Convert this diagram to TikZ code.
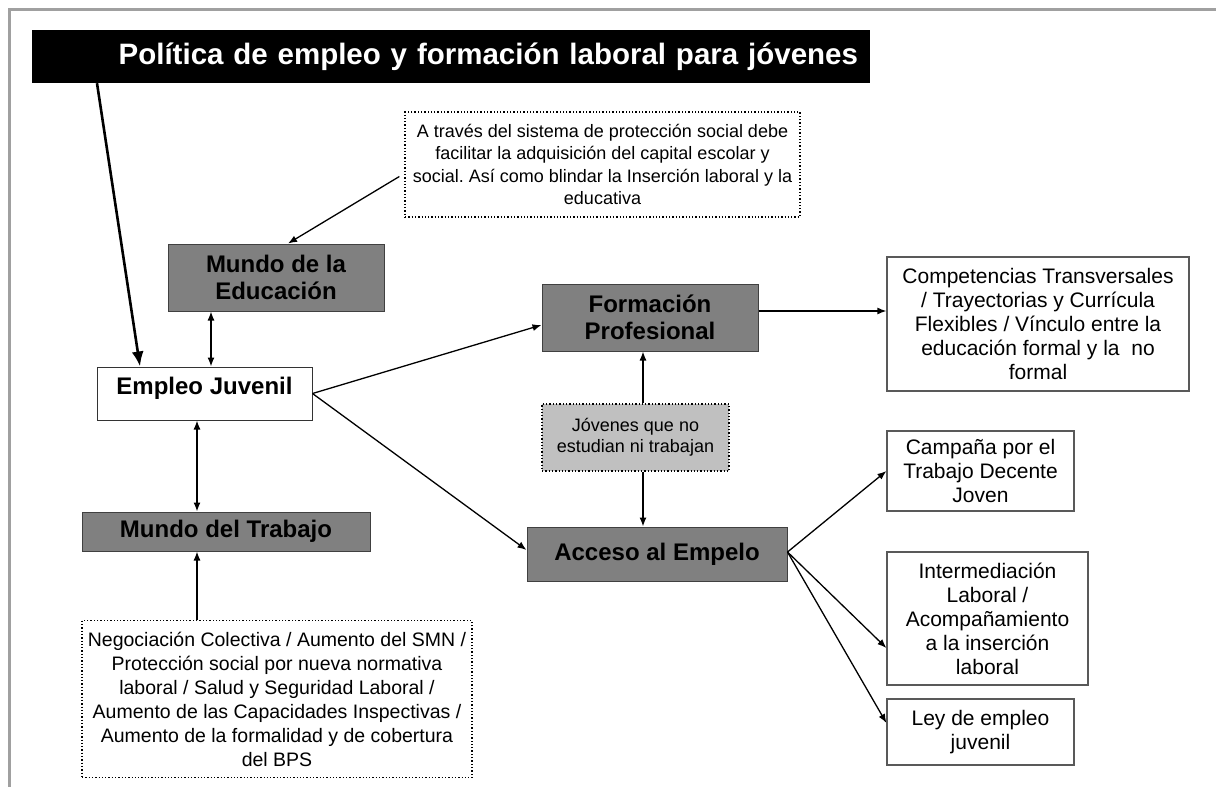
\documentclass[tikz,border=0pt]{standalone}
\usepackage{fontspec}
\setmainfont{Liberation Sans}
\usetikzlibrary{arrows.meta}
\definecolor{boxgray}{HTML}{808080}
\definecolor{jovgray}{HTML}{C0C0C0}
\definecolor{framegray}{HTML}{A0A0A0}
\frenchspacing

\begin{document}
\begin{tikzpicture}[x=1pt, y=-1pt,
        gbox/.style={draw=black!75, fill=boxgray, line width=1pt, inner sep=0pt, align=center,
                     font=\fontsize{24}{27}\selectfont\bfseries},
        wbox/.style={draw=black!65, fill=white, line width=1.2pt, inner sep=0pt, align=center,
                     font=\fontsize{21}{24}\selectfont},
        dbox/.style={draw=black, dotted, line width=1.3pt, fill=white, inner sep=0pt, align=center},
        conn/.style={line width=1.3pt, -{Latex[length=9pt,width=7pt]}},
        dconn/.style={line width=1.3pt, {Latex[length=9pt,width=7pt]}-{Latex[length=9pt,width=7pt]}}
      ]
  \useasboundingbox (0,0) rectangle (1216,787);
  \draw[framegray, line width=3pt] (9,787) -- (9,9) -- (1216,9);

  % title
  \node[fill=black, text=white, minimum width=838, minimum height=53, inner xsep=12,
        text width=814, align=right, font=\fontsize{29.5}{34}\selectfont\bfseries]
        (title) at (451,56.5) {Política de empleo y formación laboral para jóvenes};

  % left column
  \node[dbox, minimum width=395, minimum height=105, font=\fontsize{18}{22.5}\selectfont]
        (atraves) at (602.5,164.5) {A través del sistema de protección social debe\\
        facilitar la adquisición del capital escolar y\\
        social. Así como blindar la Inserción laboral y la\\educativa};
  \node[gbox, minimum width=216, minimum height=67] (educ) at (276,277.5) {Mundo de la\\Educación};
  \node[gbox, fill=white, draw=black!80, minimum width=215, minimum height=53, text depth=16pt]
        (empleo) at (204.5,393.5) {Empleo Juvenil};
  \node[gbox, minimum width=288, minimum height=39] (trabajo) at (226,531.5) {Mundo del Trabajo};
  \node[dbox, minimum width=390, minimum height=157, font=\fontsize{19.5}{24}\selectfont]
        (negoc) at (277,699) {Negociación Colectiva / Aumento del SMN /\\
        Protección social por nueva normativa\\
        laboral / Salud y Seguridad Laboral /\\
        Aumento de las Capacidades Inspectivas /\\
        Aumento de la formalidad y de cobertura\\del BPS};

  % middle column
  \node[gbox, minimum width=216, minimum height=67] (form) at (650,317.5) {Formación\\Profesional};
  \node[dbox, fill=jovgray, minimum width=187, minimum height=67, font=\fontsize{18}{21}\selectfont]
        (jov) at (635.5,437.5) {Jóvenes que no\\estudian ni trabajan};
  \node[gbox, minimum width=260, minimum height=54] (acceso) at (657,554) {Acceso al Empelo};

  % right column
  \node[wbox, minimum width=302, minimum height=134] (comp) at (1038,324)
        {Competencias Transversales\\/ Trayectorias y Currícula\\Flexibles / Vínculo entre la\\
         educación formal y la\ \ no\\formal};
  \node[wbox, minimum width=187, minimum height=80] (camp) at (980.5,471)
        {Campaña por el\\Trabajo Decente\\Joven};
  \node[wbox, minimum width=201, minimum height=133] (inter) at (987.5,618.5)
        {Intermediación\\Laboral /\\Acompañamiento\\a la inserción\\laboral};
  \node[wbox, minimum width=187, minimum height=66] (ley) at (980.5,732) {Ley de empleo\\juvenil};

  % connectors
  \draw[line width=2.6pt, -{Latex[length=15pt,width=12pt]}]
        ([xshift=-354pt]title.south) -- ([xshift=-64.5pt]empleo.north);
  \draw[conn] ([xshift=-5pt,yshift=-12pt]atraves.west) -- ([xshift=12pt]educ.north);
  \draw[dconn] ([xshift=-65pt]educ.south) -- ([xshift=6.5pt]empleo.north);
  \draw[dconn] ([xshift=-7.5pt]empleo.south) -- ([xshift=-29pt]trabajo.north);
  \draw[conn] ([xshift=-80pt]negoc.north) -- ([xshift=-29pt]trabajo.south);
  \draw[conn] (empleo.east) -- ([yshift=-7.5pt]form.west);
  \draw[conn] (empleo.east) -- ([yshift=4pt]acceso.west);
  \draw[conn] ([xshift=7.5pt]jov.north) -- ([xshift=-7pt]form.south);
  \draw[conn] ([xshift=7.5pt]jov.south) -- ([xshift=-14pt]acceso.north);
  \draw[conn] ([yshift=6.5pt]form.east) -- ([yshift=13pt]comp.west);
  \draw[conn] ([yshift=2pt]acceso.east) -- (camp.west);
  \draw[conn] ([yshift=2pt]acceso.east) -- ([yshift=-29.5pt]inter.west);
  \draw[conn] ([yshift=2pt]acceso.east) -- ([yshift=9pt]ley.west);
\end{tikzpicture}
\end{document}
